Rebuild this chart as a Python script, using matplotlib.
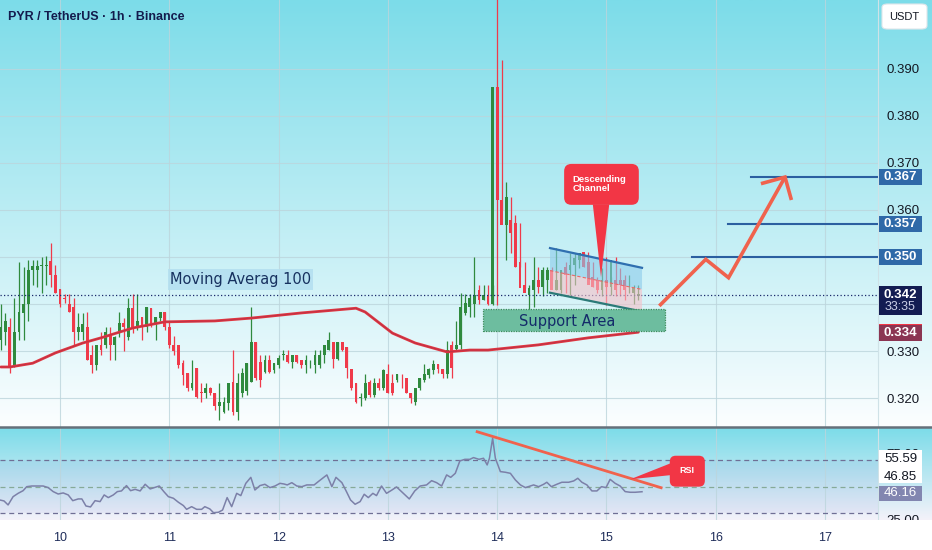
import numpy as np
import matplotlib
matplotlib.use('Agg')
import matplotlib.pyplot as plt
from matplotlib.patches import Rectangle, Polygon, FancyBboxPatch
import matplotlib.transforms as mtransforms
from matplotlib.lines import Line2D

plt.rcParams['font.family'] = ['Liberation Sans', 'DejaVu Sans']

# ---------------- data ----------------
# hourly candles, time in hours relative to day 10 00:00 (first visible candle: day 9, 11:00)
start_hour = -13
opens = [0.3323, 0.3340, 0.3352, 0.3267, 0.3341, 0.3380, 0.3401, 0.3472, 0.3472, 0.3481,
         0.3481, 0.3492, 0.3462, 0.3431, 0.3412, 0.3401, 0.3393, 0.3341, 0.3341, 0.3352,
         0.3292, 0.3270, 0.3313, 0.3313, 0.3334, 0.3313, 0.3341, 0.3360, 0.3330, 0.3391,
         0.3352, 0.3372, 0.3352, 0.3391, 0.3359, 0.3370, 0.3382, 0.3352, 0.3313, 0.3313,
         0.3274, 0.3253, 0.3221, 0.3263, 0.3212, 0.3210, 0.3221, 0.3210, 0.3182, 0.3171,
         0.3189, 0.3235, 0.3171, 0.3210, 0.3214, 0.3235, 0.3320, 0.3277, 0.3256, 0.3281,
         0.3260, 0.3270, 0.3292, 0.3292, 0.3277, 0.3292, 0.3281, 0.3270, 0.3280, 0.3270,
         0.3270, 0.3292, 0.3302, 0.3320, 0.3284, 0.3320, 0.3309, 0.3261, 0.3231, 0.3199,
         0.3199, 0.3235, 0.3206, 0.3231, 0.3221, 0.3251, 0.3231, 0.3238, 0.3241, 0.3242,
         0.3211, 0.3192, 0.3221, 0.3238, 0.3249, 0.3260, 0.3272, 0.3261, 0.3251, 0.3313,
         0.3304, 0.3313, 0.3380, 0.3394, 0.3401, 0.3430, 0.3408, 0.3419, 0.3400, 0.3861,
         0.3621, 0.3568, 0.3579, 0.3572, 0.3490, 0.3440, 0.3419, 0.3430, 0.3451, 0.3437,
         0.3451, 0.3472, 0.3430, 0.3430, 0.3479, 0.3472, 0.3483, 0.3494, 0.3511, 0.3490,
         0.3458, 0.3451, 0.3430, 0.3451, 0.3437, 0.3451, 0.3451, 0.3451, 0.3433, 0.3423,
         0.3416]
highs = [0.3401, 0.3380, 0.3370, 0.3412, 0.3490, 0.3479, 0.3494, 0.3494, 0.3494, 0.3501,
         0.3502, 0.3530, 0.3483, 0.3431, 0.3421, 0.3421, 0.3412, 0.3380, 0.3380, 0.3382,
         0.3313, 0.3313, 0.3341, 0.3352, 0.3352, 0.3332, 0.3384, 0.3370, 0.3412, 0.3421,
         0.3421, 0.3372, 0.3393, 0.3391, 0.3372, 0.3384, 0.3382, 0.3362, 0.3331, 0.3313,
         0.3281, 0.3253, 0.3281, 0.3263, 0.3231, 0.3231, 0.3224, 0.3210, 0.3231, 0.3203,
         0.3231, 0.3302, 0.3253, 0.3263, 0.3274, 0.3394, 0.3320, 0.3292, 0.3292, 0.3292,
         0.3274, 0.3292, 0.3302, 0.3302, 0.3292, 0.3292, 0.3281, 0.3292, 0.3281, 0.3302,
         0.3302, 0.3313, 0.3340, 0.3320, 0.3320, 0.3320, 0.3309, 0.3261, 0.3231, 0.3210,
         0.3251, 0.3238, 0.3242, 0.3242, 0.3261, 0.3272, 0.3251, 0.3251, 0.3251, 0.3242,
         0.3211, 0.3221, 0.3242, 0.3272, 0.3263, 0.3281, 0.3272, 0.3261, 0.3322, 0.3322,
         0.3363, 0.3423, 0.3421, 0.3421, 0.3501, 0.3440, 0.3440, 0.3440, 0.3440, 0.4060,
         0.3919, 0.3660, 0.3628, 0.3589, 0.3572, 0.3490, 0.3440, 0.3501, 0.3479, 0.3479,
         0.3479, 0.3479, 0.3519, 0.3472, 0.3490, 0.3508, 0.3508, 0.3508, 0.3508, 0.3511,
         0.3490, 0.3458, 0.3476, 0.3501, 0.3458, 0.3501, 0.3476, 0.3462, 0.3462, 0.3440,
         0.3440]
lows = [0.3302, 0.3313, 0.3253, 0.3267, 0.3323, 0.3323, 0.3363, 0.3440, 0.3437, 0.3423,
        0.3440, 0.3437, 0.3423, 0.3393, 0.3403, 0.3384, 0.3313, 0.3323, 0.3323, 0.3281,
        0.3253, 0.3260, 0.3292, 0.3306, 0.3281, 0.3281, 0.3330, 0.3299, 0.3323, 0.3338,
        0.3345, 0.3323, 0.3341, 0.3352, 0.3323, 0.3363, 0.3345, 0.3306, 0.3292, 0.3263,
        0.3228, 0.3214, 0.3217, 0.3199, 0.3192, 0.3199, 0.3207, 0.3175, 0.3153, 0.3168,
        0.3175, 0.3164, 0.3153, 0.3203, 0.3207, 0.3235, 0.3238, 0.3224, 0.3253, 0.3253,
        0.3253, 0.3263, 0.3281, 0.3274, 0.3263, 0.3274, 0.3263, 0.3253, 0.3263, 0.3253,
        0.3263, 0.3274, 0.3302, 0.3263, 0.3281, 0.3299, 0.3242, 0.3217, 0.3189, 0.3183,
        0.3196, 0.3203, 0.3203, 0.3217, 0.3217, 0.3210, 0.3206, 0.3235, 0.3221, 0.3210,
        0.3189, 0.3185, 0.3217, 0.3235, 0.3242, 0.3251, 0.3253, 0.3242, 0.3242, 0.3242,
        0.3302, 0.3304, 0.3377, 0.3373, 0.3372, 0.3401, 0.3408, 0.3398, 0.3398, 0.3398,
        0.3600, 0.3494, 0.3508, 0.3479, 0.3479, 0.3433, 0.3384, 0.3394, 0.3423, 0.3416,
        0.3423, 0.3451, 0.3430, 0.3423, 0.3423, 0.3419, 0.3440, 0.3476, 0.3479, 0.3476,
        0.3437, 0.3423, 0.3416, 0.3398, 0.3419, 0.3416, 0.3416, 0.3409, 0.3423, 0.3401,
        0.3409]
closes = [0.3352, 0.3363, 0.3267, 0.3341, 0.3384, 0.3401, 0.3472, 0.3481, 0.3481, 0.3482,
          0.3482, 0.3462, 0.3423, 0.3401, 0.3411, 0.3384, 0.3341, 0.3352, 0.3357, 0.3281,
          0.3270, 0.3313, 0.3302, 0.3341, 0.3313, 0.3330, 0.3360, 0.3352, 0.3391, 0.3348,
          0.3363, 0.3352, 0.3393, 0.3355, 0.3372, 0.3382, 0.3352, 0.3313, 0.3299, 0.3270,
          0.3249, 0.3221, 0.3231, 0.3203, 0.3210, 0.3221, 0.3210, 0.3182, 0.3192, 0.3192,
          0.3231, 0.3171, 0.3231, 0.3253, 0.3274, 0.3320, 0.3242, 0.3238, 0.3281, 0.3256,
          0.3274, 0.3285, 0.3293, 0.3277, 0.3292, 0.3277, 0.3270, 0.3281, 0.3281, 0.3292,
          0.3292, 0.3313, 0.3324, 0.3284, 0.3320, 0.3302, 0.3263, 0.3221, 0.3192, 0.3203,
          0.3231, 0.3206, 0.3231, 0.3221, 0.3260, 0.3210, 0.3210, 0.3251, 0.3240, 0.3210,
          0.3199, 0.3221, 0.3242, 0.3251, 0.3261, 0.3272, 0.3261, 0.3251, 0.3302, 0.3263,
          0.3313, 0.3393, 0.3403, 0.3412, 0.3419, 0.3408, 0.3419, 0.3400, 0.3861, 0.3621,
          0.3568, 0.3628, 0.3550, 0.3479, 0.3433, 0.3423, 0.3433, 0.3451, 0.3437, 0.3472,
          0.3472, 0.3430, 0.3451, 0.3472, 0.3462, 0.3483, 0.3497, 0.3508, 0.3479, 0.3440,
          0.3437, 0.3430, 0.3451, 0.3437, 0.3494, 0.3430, 0.3440, 0.3430, 0.3434, 0.3433,
          0.3421]

# Moving Average 100
ma_hours = [-13, -11, -6, -1, 5, 9, 16, 23, 34, 42, 53, 65, 67, 73, 78, 85, 90, 94, 105, 116, 127]
ma_values = [0.3266, 0.3266, 0.3274, 0.3296, 0.3317, 0.3328, 0.3349, 0.3362, 0.3364, 0.3370,
             0.3381, 0.3391, 0.3383, 0.3338, 0.3317, 0.3298, 0.3302, 0.3302, 0.3313, 0.3328, 0.3340]

# RSI
rsi_hours = [-13.2, -12.3, -11.4, -10.3, -9.2, -8.1, -7.3, -6.2, -5.1, -3.7, -2.6, -1.5, -0.4, 0.7,
             1.8, 2.8, 4.0, 4.8, 5.7, 6.7, 7.7, 8.8, 9.7, 10.6, 11.7, 12.6, 13.5, 14.6, 15.5, 16.5,
             17.6, 18.7, 19.8, 20.9, 21.8, 22.8, 23.8, 24.9, 26.0, 27.1, 27.8, 28.9, 30.0, 31.1,
             31.8, 32.9, 33.7, 34.8, 35.7, 36.7, 37.7, 38.8, 39.7, 40.8, 41.9, 42.8, 43.9, 45.0,
             46.1, 47.2, 48.3, 49.2, 49.9, 50.9, 52.0, 53.1, 54.2, 55.8, 56.9, 58.6, 59.7, 60.6,
             61.9, 62.9, 63.8, 64.8, 65.9, 66.8, 67.7, 68.7, 69.5, 70.6, 71.7, 72.8, 73.9, 75.0,
             76.7, 77.9, 79.1, 80.5, 81.6, 82.7, 83.8, 84.9, 85.8, 86.8, 87.8, 88.9, 90.0, 90.8,
             92.0, 93.0, 93.8, 94.3, 95.0, 95.6, 96.7, 97.8, 98.9, 100.0, 101.1, 102.2, 103.3,
             104.0, 105.1, 106.2, 106.9, 107.9, 109.1, 110.2, 111.7, 112.8, 113.7, 114.6, 115.7,
             116.8, 117.9, 118.9, 119.9, 120.8, 121.9, 123.0, 124.1, 125.2, 126.3, 127.8]
rsi_values = [40.0, 39.3, 36.3, 42.5, 45.0, 47.0, 50.0, 50.5, 50.5, 50.5, 49.3, 46.3, 44.5, 45.3,
              43.8, 39.5, 40.8, 40.8, 35.5, 34.8, 39.5, 38.8, 43.8, 41.8, 43.8, 46.3, 46.8, 50.8,
              47.0, 48.0, 46.8, 51.8, 48.3, 49.5, 50.5, 46.3, 42.5, 41.3, 38.3, 35.8, 33.0, 35.0,
              33.0, 33.0, 35.0, 33.3, 30.5, 30.8, 32.5, 41.8, 35.0, 45.0, 43.3, 52.5, 57.0, 47.5,
              50.8, 51.8, 49.3, 50.5, 52.5, 52.0, 51.3, 53.0, 50.5, 50.0, 51.3, 51.3, 54.3, 58.8,
              50.0, 57.0, 53.0, 46.3, 40.0, 36.8, 38.8, 44.3, 41.8, 45.0, 43.3, 50.5, 45.0, 47.3,
              49.8, 46.3, 40.8, 46.8, 50.5, 51.3, 54.5, 53.0, 50.5, 58.8, 57.0, 60.0, 69.3, 70.5,
              70.5, 71.8, 70.5, 71.3, 66.3, 71.3, 86.3, 71.3, 61.3, 60.8, 60.0, 55.0, 51.3, 49.3,
              50.5, 51.3, 50.0, 51.8, 53.3, 50.0, 51.8, 53.3, 53.3, 54.3, 56.3, 53.3, 51.3, 46.8,
              46.8, 50.0, 49.3, 55.5, 52.5, 50.5, 46.3, 45.8, 45.8, 46.2]

day_ticks = [0, 24, 48, 72, 96, 120, 144, 168]
day_labels = ['10', '11', '12', '13', '14', '15', '16', '17']
price_ticks = [0.32, 0.33, 0.34, 0.35, 0.36, 0.37, 0.38, 0.39]
price_labels = ['0.320', '0.330', '', '', '0.360', '0.370', '0.380', '0.390']
target_levels = [0.350, 0.357, 0.367]
target_starts = [138.8, 146.7, 151.7]
last_price = 0.342
ma_last = 0.334
rsi_last = 46.16
rsi_extra = [55.59, 46.85]

# ---------------- figure ----------------
W, H = 932, 550
fig = plt.figure(figsize=(W / 100, H / 100), dpi=100)
fig.patch.set_facecolor('white')

def fy(px):
    return (H - px) / H

XL = (-13.175, 179.62)
XL_FULL = (-13.175, 191.48)
GREEN = '#2f8a3e'
RED = '#ef3a4a'
GRID = '#bcd5dc'

def grad(top, bottom, n=256):
    t = np.linspace(0, 1, n)[:, None]
    top = np.array(top) / 255.0
    bottom = np.array(bottom) / 255.0
    return (top[None, :] * (1 - t[..., None]) + bottom[None, :] * t[..., None])

axbg = fig.add_axes([0, fy(427), 1, 427 / H], zorder=0)
axbg.imshow(grad((124, 220, 233), (252, 254, 255)), aspect='auto', extent=[0, 1, 0, 1])
axbg.axis('off')

axbg2 = fig.add_axes([0, fy(520), 1, 92 / H], zorder=0)
axbg2.imshow(grad((124, 220, 233), (244, 242, 250)), aspect='auto', extent=[0, 1, 0, 1])
axbg2.axis('off')

# ---------------- main price panel ----------------
ax = fig.add_axes([0, fy(427), 878 / W, 427 / H], zorder=2)
ax.set_facecolor('none')
ax.set_xlim(*XL)
ax.set_ylim(0.31383, 0.40468)
for s in ['top', 'left', 'bottom']:
    ax.spines[s].set_visible(False)
ax.spines['right'].set_color('#cfe2e7')
ax.spines['right'].set_linewidth(0.8)
ax.set_xticks(day_ticks)
ax.set_xticklabels([])
ax.yaxis.tick_right()
ax.set_yticks(price_ticks)
ax.set_yticklabels(price_labels)
ax.tick_params(axis='both', length=0)
ax.tick_params(axis='y', pad=6.3, labelsize=9.5, labelcolor='#131722')
ax.grid(True, color=GRID, lw=0.8, alpha=0.8)
ax.set_axisbelow(True)

hours = np.arange(start_hour, start_hour + len(closes))
o = np.array(opens); c = np.array(closes); hi = np.array(highs); lo = np.array(lows)
up = c >= o
cols = np.where(up, GREEN, RED)
body_bottom = np.minimum(o, c)
body_h = np.maximum(np.abs(c - o), 0.00013)
ax.vlines(hours, lo, hi, colors=cols, lw=0.9, zorder=3)
ax.bar(hours, body_h, bottom=body_bottom, width=0.62, color=cols, zorder=3.1, linewidth=0)

# moving average
ax.plot(ma_hours, ma_values, color='#e0363f', lw=2.0, zorder=3.5, solid_capstyle='round')
ax.plot(ma_hours, ma_values, color='#8a2a55', lw=0.5, alpha=0.5, zorder=3.6)

# last price dotted line
ax.axhline(last_price, color='#1c2a6b', lw=0.9, ls=(0, (1, 1.8)), zorder=3.7)

# MA label
ax.add_patch(Rectangle((23.7, 0.3430), 31.9, 0.0045, facecolor='#b3dff0', edgecolor='none',
                       alpha=0.85, zorder=4))
ax.text(39.6, 0.34525, 'Moving Averag 100', color='#17315f', fontsize=10.5,
        family=['DejaVu Sans'], ha='center', va='center', zorder=4.1)

# descending channel
ch_t = [107.6, 127.8]
top_p = [0.3519, 0.3477]
mid_p = [0.3471, 0.3431]
bot_p = [0.3424, 0.3384]
ax.add_patch(Polygon([(ch_t[0], top_p[0]), (ch_t[1], top_p[1]), (ch_t[1], mid_p[1]), (ch_t[0], mid_p[0])],
                     closed=True, facecolor='#8ccbeb', alpha=0.6, edgecolor='none', zorder=4))
ax.add_patch(Polygon([(ch_t[0], mid_p[0]), (ch_t[1], mid_p[1]), (ch_t[1], bot_p[1]), (ch_t[0], bot_p[0])],
                     closed=True, facecolor='#f5c0c8', alpha=0.6, edgecolor='none', zorder=4))
ax.plot(ch_t, top_p, color='#2f6fb0', lw=1.6, zorder=4.2)
ax.plot(ch_t, bot_p, color='#2b7a78', lw=1.6, zorder=4.2)
ax.plot(ch_t, mid_p, color='#e86a6a', lw=0.8, ls=(0, (3, 2)), zorder=4.2)

# support area
ax.add_patch(Rectangle((92.8, 0.3343), 40.1, 0.0046, facecolor='#6dbd9f', edgecolor='#3d8c5c',
                       lw=0.9, ls=(0, (1, 1)), zorder=4.5))
ax.text(111.3, 0.33635, 'Support Area', color='#142c6a', fontsize=10.5,
        family=['DejaVu Sans'], ha='center', va='center', zorder=4.6)

# descending channel callout
asp_main = 4.554 / 4700
ax.add_patch(FancyBboxPatch((110.7, 0.3611), 16.4, 0.0087,
                            boxstyle='round,pad=0,rounding_size=1.6', mutation_aspect=asp_main,
                            facecolor='#f23645', edgecolor='none', zorder=5))
ax.add_patch(Polygon([(117.0, 0.3612), (120.6, 0.3612), (118.8, 0.3457)], closed=True,
                     facecolor='#f23645', edgecolor='none', zorder=5))
ax.text(112.6, 0.36555, 'Descending\nChannel', color='white', fontsize=6.8, fontweight='bold',
        ha='left', va='center', linespacing=0.95, zorder=5.1)

# projected path arrow
ARROW = '#f0624d'
ax.plot([131.6, 141.8, 146.8, 159.2], [0.3396, 0.3495, 0.3456, 0.3670], color=ARROW, lw=2.6,
        zorder=5, solid_joinstyle='miter', solid_capstyle='butt')
ax.plot([154.3, 159.2, 160.5], [0.3657, 0.3670, 0.3625], color=ARROW, lw=2.6, zorder=5,
        solid_joinstyle='miter')

# target levels
for lvl, st in zip(target_levels, target_starts):
    ax.plot([st, XL[1]], [lvl, lvl], color='#2b5fa0', lw=1.5, zorder=4.8)

# right-axis badges
tr = mtransforms.blended_transform_factory(ax.transAxes, ax.transData)
bx0 = 879 / 878
bw = 43 / 878
def badge(yc, hpx, color, text, tcolor='white'):
    h = hpx / 4700
    ax.add_patch(Rectangle((bx0, yc - h / 2), bw, h, transform=tr, facecolor=color,
                           edgecolor='none', clip_on=False, zorder=8))
    ax.text(bx0 + bw / 2, yc, text, transform=tr, ha='center', va='center', color=tcolor,
            fontsize=9.5, fontweight='bold', clip_on=False, zorder=9)

for lvl in target_levels:
    badge(lvl, 16, '#2f69a8', f'{lvl:.3f}')
ax.add_patch(Rectangle((bx0, 0.33766), bw, 0.00617, transform=tr, facecolor='#131c52',
                       edgecolor='none', clip_on=False, zorder=8))
ax.text(bx0 + bw / 2, last_price, f'{last_price:.3f}', transform=tr, ha='center', va='center',
        color='white', fontsize=9.5, fontweight='bold', clip_on=False, zorder=9)
ax.text(bx0 + bw / 2, 0.33926, '33:35', transform=tr, ha='center', va='center',
        color='#c9cde6', fontsize=9, clip_on=False, zorder=9)
ax.add_patch(Rectangle((bx0, 0.33213), bw, 0.00361, transform=tr, facecolor='#8b3552',
                       edgecolor='none', clip_on=False, zorder=8))
ax.add_patch(Rectangle((bx0, 0.33550), bw, 0.00030, transform=tr, facecolor='#f23645',
                       edgecolor='none', clip_on=False, zorder=8.5))
ax.text(bx0 + bw / 2, 0.33385, f'{ma_last:.3f}', transform=tr, ha='center', va='center',
        color='white', fontsize=9.5, fontweight='bold', clip_on=False, zorder=9)

# ---------------- RSI panel ----------------
axr = fig.add_axes([0, fy(520), 878 / W, 92 / H], zorder=2)
axr.set_facecolor('none')
axr.set_xlim(*XL)
axr.set_ylim(25, 94)
for s in ['top', 'left', 'bottom']:
    axr.spines[s].set_visible(False)
axr.spines['right'].set_color('#cfe2e7')
axr.spines['right'].set_linewidth(0.8)
axr.set_xticks(day_ticks)
axr.set_xticklabels([])
axr.yaxis.tick_right()
axr.set_yticks([25, 75])
axr.set_yticklabels(['25.00', '75.00'])
axr.tick_params(axis='both', length=0)
axr.tick_params(axis='y', pad=6.3, labelsize=9.5, labelcolor='#131722')
axr.grid(True, axis='x', color=GRID, lw=0.8, alpha=0.8)
axr.axhspan(30, 70, color='#7e57c2', alpha=0.07, lw=0)
axr.axhline(70, color='#6f6f95', lw=0.9, ls=(0, (4, 3)))
axr.axhline(50, color='#86aa98', lw=0.9, ls=(0, (4, 3)))
axr.axhline(30, color='#6f6f95', lw=0.9, ls=(0, (4, 3)))
axr.plot(rsi_hours, rsi_values, color='#7c80a8', lw=1.1, zorder=3)

axr.plot([91.6, 132.0], [91.2, 49.2], color=ARROW, lw=2.0, zorder=4)
asp_rsi = 4.554 / 1.3333
axr.add_patch(FancyBboxPatch((133.9, 50.0), 7.7, 23.2,
                             boxstyle='round,pad=0,rounding_size=1.3', mutation_aspect=asp_rsi,
                             facecolor='#f23645', edgecolor='none', zorder=5))
axr.add_patch(Polygon([(134.2, 67.7), (134.2, 58.7), (125.2, 55.5)], closed=True,
                      facecolor='#f23645', edgecolor='none', zorder=5))
axr.text(137.75, 62.0, 'RSI', color='white', fontsize=6.5, fontweight='bold',
         ha='center', va='center', zorder=5.1)

trr = mtransforms.blended_transform_factory(axr.transAxes, axr.transData)
axr.add_patch(Rectangle((bx0, 52.75), bw, 24.4, transform=trr, facecolor='white',
                        edgecolor='none', clip_on=False, zorder=8))
for v, yv in zip(rsi_extra, [70.5, 57.25]):
    axr.text(bx0 + bw / 2, yv, f'{v:.2f}', transform=trr, ha='center', va='center',
             color='#131722', fontsize=9.5, clip_on=False, zorder=9)
axr.add_patch(Rectangle((bx0, 39.25), bw, 11.25, transform=trr, facecolor='#8286b0',
                        edgecolor='none', clip_on=False, zorder=8))
axr.text(bx0 + bw / 2, 44.9, f'{rsi_last:.2f}', transform=trr, ha='center', va='center',
         color='white', fontsize=9.5, clip_on=False, zorder=9)

# ---------------- date axis ----------------
axd = fig.add_axes([0, 0, 1, 30 / H], zorder=3)
axd.set_facecolor('white')
axd.set_xlim(*XL_FULL)
axd.set_ylim(0, 1)
for s in axd.spines.values():
    s.set_visible(False)
axd.set_yticks([])
axd.set_xticks(day_ticks)
axd.set_xticklabels(day_labels)
axd.tick_params(axis='x', length=0, pad=-13.3, labelsize=9, labelcolor='#1f2d5a')

fig.add_artist(Line2D([0, 1], [fy(427.3), fy(427.3)], transform=fig.transFigure,
                      color='#66707a', lw=1.8, zorder=10))

fig.text(8 / W, fy(16.5), 'PYR / TetherUS · 1h · Binance', color='#131b4d', fontsize=9,
         fontweight='bold', ha='left', va='center', zorder=10)
fig.add_artist(FancyBboxPatch((882 / W, fy(29)), 45 / W, 25 / H, transform=fig.transFigure,
                              boxstyle='round,pad=0,rounding_size=0.006', facecolor='white',
                              edgecolor='#dfe6ea', lw=0.8, zorder=10))
fig.text(904.5 / W, fy(16.5), 'USDT', color='#131722', fontsize=8, ha='center', va='center',
         zorder=11)

fig.savefig('out.png', dpi=100)
